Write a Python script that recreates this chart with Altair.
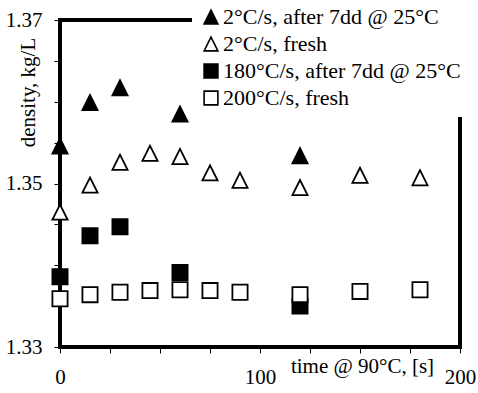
import altair as alt
import pandas as pd

series_names = [
    "2°C/s, after 7dd @ 25°C",
    "2°C/s, fresh",
    "180°C/s, after 7dd @ 25°C",
    "200°C/s, fresh",
]

t_aged_2 = [0, 15, 30, 60, 120]
d_aged_2 = [1.3546, 1.3599, 1.3617, 1.3585, 1.3534]

t_fresh_2 = [0, 15, 30, 45, 60, 75, 90, 120, 150, 180]
d_fresh_2 = [1.3465, 1.3498, 1.3526, 1.3537, 1.3533, 1.3513, 1.3504, 1.3495, 1.3510, 1.3507]

t_aged_180 = [0, 15, 30, 60, 120]
d_aged_180 = [1.3386, 1.3436, 1.3447, 1.3391, 1.3350]

t_fresh_200 = [0, 15, 30, 45, 60, 75, 90, 120, 150, 180]
d_fresh_200 = [1.3359, 1.3364, 1.3367, 1.3369, 1.3370, 1.3369, 1.3367, 1.3364, 1.3368, 1.3370]

x_ticks = [0, 25, 50, 75, 100, 125, 150, 175, 200]
y_ticks = [1.33, 1.335, 1.34, 1.345, 1.35, 1.355, 1.36, 1.365, 1.37]

rows = []
for name, ts, ds in zip(series_names,
                        [t_aged_2, t_fresh_2, t_aged_180, t_fresh_200],
                        [d_aged_2, d_fresh_2, d_aged_180, d_fresh_200]):
    for t, d in zip(ts, ds):
        rows.append({"series": name, "time": t, "density": d})
df = pd.DataFrame(rows)

tri = "M0,-1L-1,1L1,1Z"
FONT = "'Liberation Serif', 'Times New Roman', Times, serif"

legend = alt.Legend(title=None, orient="none", legendX=132, legendY=-22,
                    fillColor="white", padding=8, rowPadding=5,
                    labelOffset=1, symbolSize=190, symbolStrokeWidth=1.6,
                    labelFont=FONT, labelFontSize=22, labelColor="black",
                    labelLimit=400,
                    labelExpr="datum.label + '\u00a0\u00a0\u00a0\u00a0\u00a0\u00a0\u00a0'")

axis_style = dict(labelFont=FONT, labelFontSize=21, labelColor="black",
                  titleFont=FONT, titleFontSize=21, titleColor="black",
                  titleFontWeight="normal", grid=False, domain=False,
                  tickSize=6, tickColor="black", tickWidth=1,
                  labelOverlap=False, labelBound=False, labelFlush=False,
                  titleBaseline="middle", titleAlign="center")

chart = alt.Chart(df).mark_point(
    filled=True, strokeWidth=1.8, size=230, opacity=1
).encode(
    x=alt.X("time:Q",
            scale=alt.Scale(domain=[0, 200], nice=False, zero=False),
            axis=alt.Axis(values=x_ticks, title="time @ 90°C, [s]",
                          labelExpr="datum.value % 100 == 0 ? datum.label : ''",
                          labelPadding=13, titleX=302, titleY=19, **axis_style)),
    y=alt.Y("density:Q",
            scale=alt.Scale(domain=[1.33, 1.37], nice=False, zero=False),
            axis=alt.Axis(values=y_ticks, title="density, kg/L",
                          labelExpr="round(datum.value*1000) % 20 == 10 ? format(datum.value, '.2f') : ''",
                          labelPadding=12, titleX=-32, titleY=72, **axis_style)),
    shape=alt.Shape("series:N",
                    scale=alt.Scale(domain=series_names, range=[tri, tri, "square", "square"]),
                    legend=legend),
    fill=alt.Fill("series:N",
                  scale=alt.Scale(domain=series_names, range=["black", "white", "black", "white"]),
                  legend=legend),
    stroke=alt.Stroke("series:N",
                      scale=alt.Scale(domain=series_names, range=["black", "black", "black", "black"]),
                      legend=legend),
).properties(
    width=400, height=327,
    background="white",
    autosize=alt.AutoSizeParams(type="none"),
    padding={"left": 60, "top": 20, "right": 18, "bottom": 46},
).configure_view(
    stroke="black", strokeWidth=4, fill="white"
)

chart.save("out.html", embed_options={"renderer": "svg", "actions": False})
